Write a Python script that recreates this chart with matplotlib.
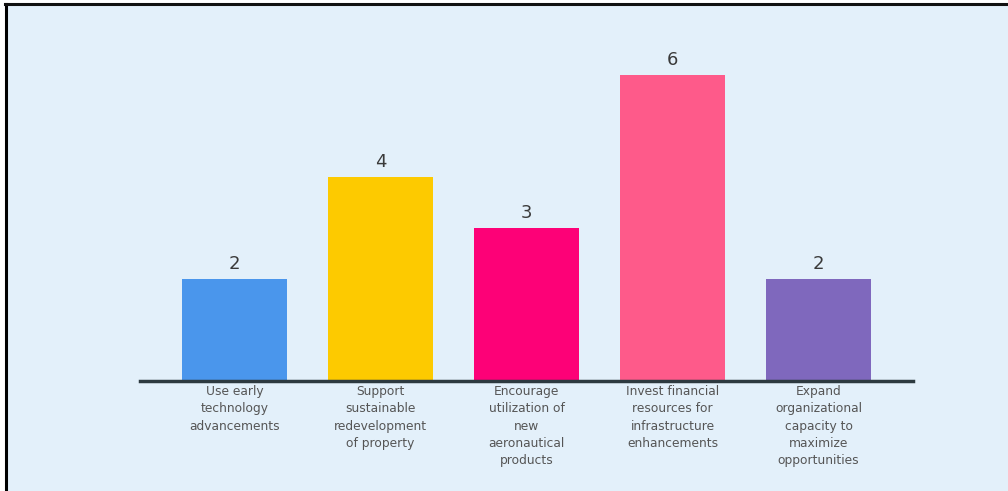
import matplotlib
matplotlib.use("Agg")
import matplotlib.pyplot as plt
from matplotlib.lines import Line2D

categories = [
    "Use early\ntechnology\nadvancements",
    "Support\nsustainable\nredevelopment\nof property",
    "Encourage\nutilization of\nnew\naeronautical\nproducts",
    "Invest financial\nresources for\ninfrastructure\nenhancements",
    "Expand\norganizational\ncapacity to\nmaximize\nopportunities",
]
values = [2, 4, 3, 6, 2]
colors = ["#4a96ec", "#fdca00", "#fd0177", "#fe5a8a", "#7f68bd"]

bg = "#e3f0fa"
fig = plt.figure(figsize=(10.08, 4.91), dpi=100)
fig.patch.set_facecolor("white")
# light background panel
fig.patches.append(plt.Rectangle((6/1008, 0), 1 - 6/1008, 1 - 5/491,
                                 transform=fig.transFigure, facecolor=bg,
                                 edgecolor="none", zorder=-10))
fig.lines.append(Line2D([6/1008, 6/1008], [0, 1 - 4/491], transform=fig.transFigure,
                        color="black", lw=2.2))
fig.lines.append(Line2D([5/1008, 1], [1 - 4/491, 1 - 4/491], transform=fig.transFigure,
                        color="#111111", lw=2.2))

ax = fig.add_axes([140/1008, (491-381)/491, 773/1008, 357/491])
ax.set_facecolor("none")
x = list(range(len(values)))
bars = ax.bar(x, values, width=0.72, color=colors, zorder=2)
ax.set_xlim(-0.647, 4.647)
ax.set_ylim(0, 7)
for xi, v in zip(x, values):
    ax.text(xi, v + 0.12, str(v), ha="center", va="bottom", fontsize=13,
            color="#3a3a3a", family="DejaVu Sans")
for s in ["top", "right", "left"]:
    ax.spines[s].set_visible(False)
ax.spines["bottom"].set_color("#2d3a40")
ax.spines["bottom"].set_linewidth(2.5)
ax.spines["bottom"].set_zorder(3)
ax.set_yticks([])
ax.set_xticks(x)
ax.set_xticklabels(categories, fontsize=8.8, color="#555555", linespacing=1.42,
                   family="DejaVu Sans")
ax.tick_params(axis="x", length=0, pad=3)

fig.savefig("out.png", dpi=100, facecolor=fig.get_facecolor())
